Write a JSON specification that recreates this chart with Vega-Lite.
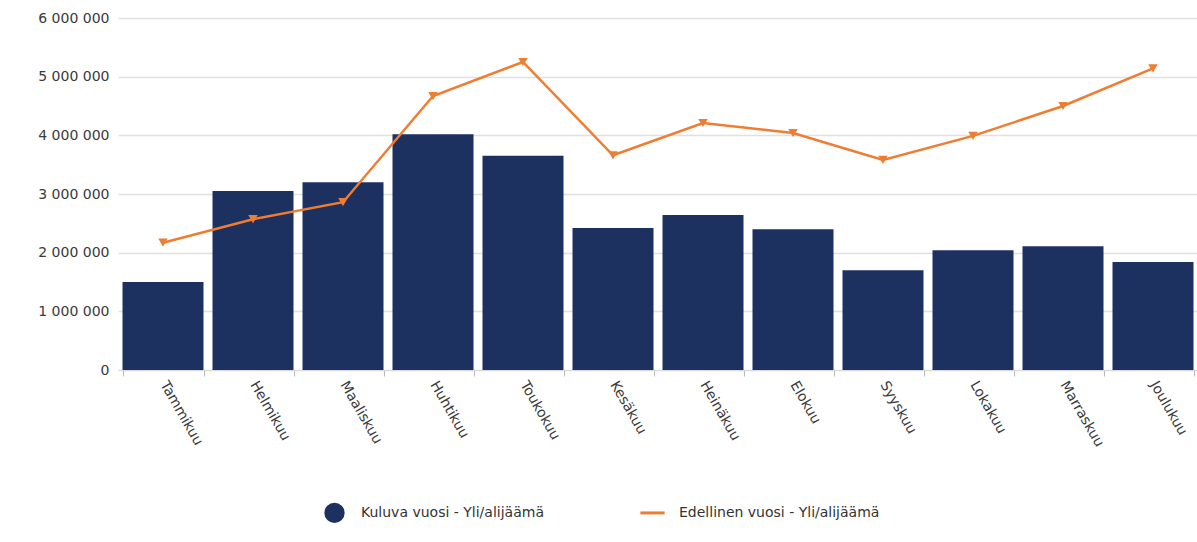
{
  "$schema": "https://vega.github.io/schema/vega-lite/v6.json",
  "width": 1080,
  "height": 352,
  "autosize": {"type": "none"},
  "padding": {"left": 118, "top": 18, "right": 0, "bottom": 172},
  "background": "white",
  "config": {
    "view": {"stroke": null},
    "font": "DejaVu Sans"
  },
  "data": {
    "values": [
      {"kuukausi": "Tammikuu", "kuluva": 1500000, "edellinen": 2170000},
      {"kuukausi": "Helmikuu", "kuluva": 3050000, "edellinen": 2570000},
      {"kuukausi": "Maaliskuu", "kuluva": 3200000, "edellinen": 2860000},
      {"kuukausi": "Huhtikuu", "kuluva": 4020000, "edellinen": 4670000},
      {"kuukausi": "Toukokuu", "kuluva": 3650000, "edellinen": 5250000},
      {"kuukausi": "Kesäkuu", "kuluva": 2420000, "edellinen": 3660000},
      {"kuukausi": "Heinäkuu", "kuluva": 2640000, "edellinen": 4210000},
      {"kuukausi": "Elokuu", "kuluva": 2400000, "edellinen": 4040000},
      {"kuukausi": "Syyskuu", "kuluva": 1700000, "edellinen": 3580000},
      {"kuukausi": "Lokakuu", "kuluva": 2040000, "edellinen": 3990000},
      {"kuukausi": "Marraskuu", "kuluva": 2110000, "edellinen": 4500000},
      {"kuukausi": "Joulukuu", "kuluva": 1840000, "edellinen": 5140000}
    ]
  },
  "resolve": {"axis": {"y": "independent"}},
  "encoding": {
    "x": {
      "field": "kuukausi",
      "type": "nominal",
      "sort": null,
      "title": null,
      "scale": {"paddingInner": 0.1, "paddingOuter": 0.05},
      "axis": {
        "labelAngle": 60,
        "labelAlign": "left",
        "labelBaseline": "middle",
        "labelFontSize": 14,
        "labelColor": "#3a3a3a",
        "labelPadding": 6,
        "domainColor": "#d9d9d9",
        "tickColor": "#bbbbbb",
        "tickSize": 6,
        "tickBand": "extent",
        "grid": false
      }
    }
  },
  "layer": [
    {
      "mark": {"type": "bar", "color": "#1c3160"},
      "encoding": {
        "y": {
          "field": "kuluva",
          "type": "quantitative",
          "title": null,
          "scale": {"domain": [0, 6000000], "nice": false},
          "axis": {
            "values": [0, 1000000, 2000000, 3000000, 4000000, 5000000, 6000000],
            "labelExpr": "replace(replace(format(datum.value, ',d'), ',', ' '), ',', ' ')",
            "labelFontSize": 14,
            "labelColor": "#3a3a3a",
            "labelPadding": 9,
            "domain": false,
            "ticks": false,
            "gridColor": "#e0e0e0",
            "gridWidth": 1.5
          }
        },
        "color": {
          "datum": "Kuluva vuosi - Yli/alijäämä",
          "scale": {
            "domain": ["Kuluva vuosi - Yli/alijäämä", "Edellinen vuosi - Yli/alijäämä"],
            "range": ["#1c3160", "#ef7d31"]
          },
          "legend": {
            "title": null,
            "orient": "none",
            "legendX": 206,
            "legendY": 484,
            "direction": "horizontal",
            "labelFontSize": 14,
            "labelLimit": 400,
            "labelColor": "#333333",
            "columnPadding": 90,
            "labelOffset": 16,
            "symbolSize": 300,
            "encode": {
              "symbols": {
                "update": {
                  "shape": {"signal": "datum.value == 'Kuluva vuosi - Yli/alijäämä' ? 'circle' : 'M-1.4,-1M-1.4,1M-1.4,0H1.4'"},
                  "fill": {"signal": "datum.value == 'Kuluva vuosi - Yli/alijäämä' ? '#1c3160' : 'transparent'"},
                  "stroke": {"signal": "datum.value == 'Kuluva vuosi - Yli/alijäämä' ? 'transparent' : '#ef7d31'"},
                  "strokeWidth": {"value": 3}
                }
              }
            }
          }
        }
      }
    },
    {
      "mark": {"type": "line", "strokeWidth": 2.5, "point": {"shape": "triangle-down", "size": 90, "filled": true}},
      "encoding": {
        "y": {"field": "edellinen", "type": "quantitative", "axis": null},
        "color": {"datum": "Edellinen vuosi - Yli/alijäämä"}
      }
    }
  ]
}
